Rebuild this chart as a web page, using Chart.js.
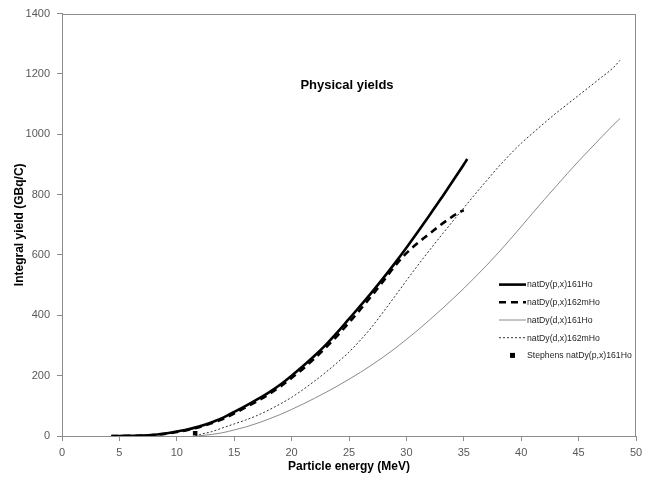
<!DOCTYPE html>
<html>
<head>
<meta charset="utf-8">
<script src="https://cdn.jsdelivr.net/npm/chart.js@4.4.0/dist/chart.umd.min.js"></script>
<style>
html,body{margin:0;padding:0;background:#fff;}
#wrap{width:652px;height:477px;position:relative;}
</style>
</head>
<body>
<div id="wrap"><canvas id="c" width="652" height="477"></canvas></div>
<script>
// ---- data ----
const titleText = "Physical yields";
const xTitle = "Particle energy (MeV)";
const yTitle = "Integral yield (GBq/C)";
const seriesNames = ["natDy(p,x)161Ho", "natDy(p,x)162mHo", "natDy(d,x)161Ho", "natDy(d,x)162mHo", "Stephens natDy(p,x)161Ho"];

const energyP161 = [4.3,5,6,7,8,9,10,11,12,13,14,15,16,17,18,19,20,21,22,23,24,25,26,27,28,29,30,31,32,33,34,35,35.3];
const yieldP161  = [0,0.2,0.5,1.5,4,8,15,22,32,45,60,80,100,121,144,170,200,232,266,303,344,388,432,477,524,573,624,677,731,786,843,900,918];

const energyP162m = [4.3,6,8,10,12,14,16,18,20,22,24,26,27,28,29,30,31,32,33,34,34.8,35];
const yieldP162m  = [0,0.4,3.5,13,30,56,95,138,192,257,333,420,466,514,563,606,640,670,700,727,745,748];

const energyD161 = [11.8,12,13,14,15,16,17,18,19,20,21,22,23,24,25,26,27,28,29,30,31,32,33,34,35,36,37,38,39,40,41,42,43,44,45,46,47,48,48.6];
const yieldD161  = [0,1,5,11,20,30,42,56,71,88,106,125,145,166,188,211,236,262,290,320,351,384,418,453,489,527,566,607,650,694,739,783,826,869,911,951,991,1030,1052];

const energyD162m = [11.6,12,13,14,15,16,17,18,19,20,21,22,23,24,25,26,27,28,29,30,31,32,33,34,35,36,37,38,39,40,41,42,43,44,45,46,47,48,48.6];
const yieldD162m  = [0,5,14,27,40,53,68,86,106,128,154,182,212,244,278,318,362,412,463,515,566,615,663,710,756,802,847,891,932,970,1004,1037,1069,1099,1129,1159,1189,1220,1245];

const energyStephens = [11.6];
const yieldStephens  = [9];

const xTicks = [0,5,10,15,20,25,30,35,40,45,50];
const yTicks = [0,200,400,600,800,1000,1200,1400];

// ---- build ----
const pts = (xs, ys) => xs.map((x, i) => ({x: x, y: ys[i]}));

const FONT = "'Liberation Sans', Arial, sans-serif";

const legendStyles = [
  {type:'line', color:'#000', width:2.6, dash:[]},
  {type:'line', color:'#000', width:2.6, dash:[7,5]},
  {type:'line', color:'#8a8a8a', width:1, dash:[]},
  {type:'line', color:'#333', width:1, dash:[2,2]},
  {type:'rect', color:'#000'}
];

const decor = {
  id: 'decor',
  beforeDatasetsDraw(chart) {
    const {ctx, chartArea: a} = chart;
    ctx.save();
    ctx.strokeStyle = '#8c8c8c';
    ctx.lineWidth = 1;
    ctx.strokeRect(Math.round(a.left) + 0.5, Math.round(a.top) + 0.5, Math.round(a.right - a.left) - 1, Math.round(a.bottom - a.top));
    ctx.restore();
  },
  afterDraw(chart) {
    const {ctx, chartArea: a} = chart;
    ctx.save();
    ctx.fillStyle = '#000';
    ctx.font = "bold 13px " + FONT;
    ctx.textAlign = 'center';
    ctx.textBaseline = 'middle';
    ctx.fillText(titleText, a.left + (a.right - a.left) * 0.4965, a.top + 72);
    const x0 = a.left + 437, x1 = a.left + 464, tx = a.left + 465;
    let y = a.top + 271;
    ctx.font = "8.7px " + FONT;
    ctx.textAlign = 'left';
    for (let i = 0; i < seriesNames.length; i++) {
      const s = legendStyles[i];
      ctx.save();
      if (s.type === 'line') {
        ctx.strokeStyle = s.color;
        ctx.lineWidth = s.width;
        ctx.setLineDash(s.dash);
        ctx.beginPath();
        ctx.moveTo(x0, y);
        ctx.lineTo(x1, y);
        ctx.stroke();
      } else {
        ctx.fillStyle = s.color;
        ctx.fillRect((x0 + x1) / 2 - 2.5, y - 2.5, 5, 5);
      }
      ctx.restore();
      ctx.fillStyle = '#262626';
      ctx.fillText(seriesNames[i], tx, y + 0.5);
      y += 17.7;
    }
    ctx.restore();
  }
};

new Chart(document.getElementById('c'), {
  type: 'line',
  data: {
    datasets: [
      {label: seriesNames[0], data: pts(energyP161, yieldP161), borderColor:'#000', borderWidth:2.6, pointRadius:0, cubicInterpolationMode:'monotone', order:1},
      {label: seriesNames[1], data: pts(energyP162m, yieldP162m), borderColor:'#000', borderWidth:2.6, borderDash:[7,5], pointRadius:0, cubicInterpolationMode:'monotone', order:2},
      {label: seriesNames[2], data: pts(energyD161, yieldD161), borderColor:'#8a8a8a', borderWidth:1, pointRadius:0, cubicInterpolationMode:'monotone', order:3},
      {label: seriesNames[3], data: pts(energyD162m, yieldD162m), borderColor:'#333', borderWidth:1, borderDash:[2,2], pointRadius:0, cubicInterpolationMode:'monotone', order:4},
      {label: seriesNames[4], type:'scatter', data: pts(energyStephens, yieldStephens), showLine:false, pointStyle:'rect', pointRadius:3.2, backgroundColor:'#000', borderColor:'#000', borderWidth:0, order:0}
    ]
  },
  options: {
    responsive: false,
    animation: false,
    layout: {padding: {top: 12, right: 16, left: 0, bottom: 0}},
    plugins: {legend: {display: false}, title: {display: false}, tooltip: {enabled: false}},
    scales: {
      x: {
        type: 'linear', min: 0, max: 50,
        afterBuildTicks: s => { s.ticks = xTicks.map(v => ({value: v})); },
        afterFit: s => { s.height = 41; },
        ticks: {color: '#595959', font: {family: FONT, size: 11}, padding: 5, maxRotation: 0, callback: v => String(v)},
        grid: {drawOnChartArea: false, drawTicks: true, tickLength: 5, color: '#8c8c8c'},
        border: {display: true, color: '#8c8c8c'},
        title: {display: true, text: xTitle, color: '#000', font: {family: FONT, size: 12, weight: 'bold'}, padding: {top: 0, bottom: 3}}
      },
      y: {
        type: 'linear', min: 0, max: 1400,
        afterBuildTicks: s => { s.ticks = yTicks.map(v => ({value: v})); },
        afterFit: s => { s.width = 62; },
        ticks: {color: '#595959', font: {family: FONT, size: 11}, padding: 7, callback: v => String(v)},
        grid: {drawOnChartArea: false, drawTicks: true, tickLength: 5, color: '#8c8c8c'},
        border: {display: true, color: '#8c8c8c'},
        title: {display: true, text: yTitle, color: '#000', font: {family: FONT, size: 12, weight: 'bold'}, padding: {top: 12, bottom: 0}}
      }
    }
  },
  plugins: [decor]
});
</script>
</body>
</html>
